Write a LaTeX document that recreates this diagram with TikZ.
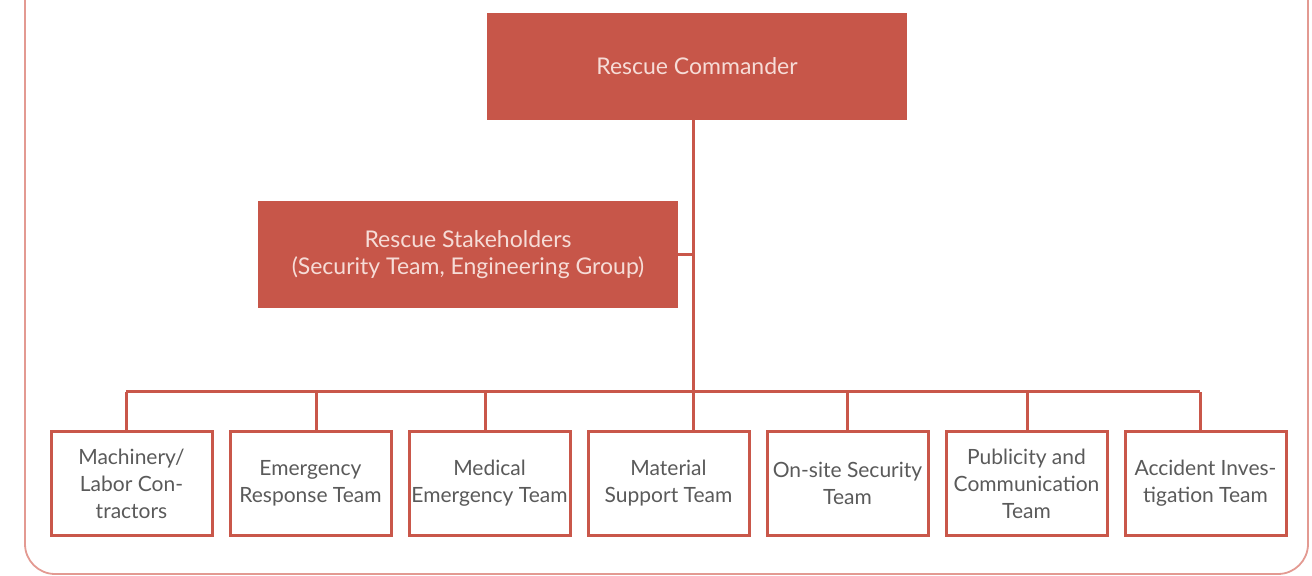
\documentclass[tikz,border=0pt]{standalone}
\usepackage{fontspec}
\setmainfont{Lato}
\usepackage{xcolor}
\usetikzlibrary{positioning,calc}
\definecolor{rescueRed}{HTML}{C75649}
\definecolor{lineRed}{HTML}{C9574A}
\definecolor{frameRed}{HTML}{E39A92}
\definecolor{paleText}{HTML}{F6DCD7}
\definecolor{teamText}{HTML}{5A5A5A}
\tikzset{
  leadBox/.style={
    rectangle,
    fill=rescueRed,
    text=paleText,
    minimum width=210pt,
    minimum height=53.5pt,
    align=center,
    font=\fontsize{11.5}{13.5}\selectfont
  },
  teamBox/.style={
    rectangle,
    draw=lineRed,
    line width=1.5pt,
    fill=white,
    text=teamText,
    minimum width=80.5pt,
    minimum height=52pt,
    inner sep=1pt,
    align=center,
    font=\fontsize{10.5}{13.5}\selectfont
  },
  linkLine/.style={
    draw=lineRed,
    line width=1.5pt
  },
  frameLine/.style={
    draw=frameRed,
    line width=0.9pt,
    rounded corners=15pt
  }
}

\begin{document}
\begin{tikzpicture}[x=0.5pt,y=-0.5pt]
        \useasboundingbox (0,0) rectangle (1312,576);
        \draw[frameLine] (25,-60) rectangle (1308,574);

        \node[leadBox] (commander) at (697,66.5) {Rescue Commander};
        \node[leadBox] (stakeholders) at (468,254.5) {Rescue Stakeholders\\(Security Team, Engineering Group)};

        % row of teams
        \node[teamBox] (machinery) at (131.5,483.5) {Machinery/\\Labor Con-\\tractors};
        \node[teamBox, right=7.5pt of machinery] (emergency) {Emergency\\Response Team};
        \node[teamBox, right=7.5pt of emergency] (medical) {Medical\\Emergency Team};
        \node[teamBox, right=7.5pt of medical] (material) {Material\\Support Team};
        \node[teamBox, right=7.5pt of material] (onsite) {On-site Security\\Team};
        \node[teamBox, right=7.5pt of onsite] (publicity) {Publicity and\\Communication\\Team};
        \node[teamBox, right=7.5pt of publicity] (accident) {Accident Inves-\\tigation Team};

        \coordinate (busLeft) at (126,392);
        \coordinate (busRight) at (1200,392);
        \coordinate (trunkTop) at ([xshift=-2pt]commander.south);

        \draw[linkLine] (trunkTop) -- (trunkTop |- busLeft);
        \draw[linkLine] (stakeholders.east) -- (stakeholders.east -| trunkTop);
        \draw[linkLine] (busLeft) -- (busRight);
        \foreach \team/\dx in {machinery/-2.75, emergency/3, medical/-2, material/12.5, onsite/0, publicity/0.5, accident/-2.5}
          \draw[linkLine] ([xshift=\dx pt]\team.north) -- ([xshift=\dx pt]\team.north |- busLeft);

    \end{tikzpicture}
\end{document}
